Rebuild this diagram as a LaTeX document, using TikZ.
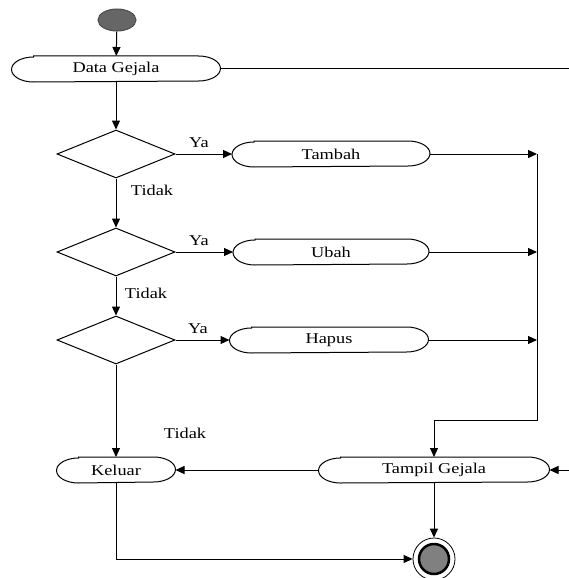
\documentclass[tikz,border=0pt]{standalone}
\usepackage{fontspec}
\setmainfont[FakeStretch=1.22]{Liberation Serif}
\usetikzlibrary{shapes.geometric}
\usetikzlibrary{arrows.meta}
\tikzstyle{activity}=[minimum height=25pt, inner sep=0pt, font=\fontsize{15}{17}\selectfont,
    append after command={\pgfextra{\draw ([xshift=22pt]\tikzlastnode.north west) -- ([xshift=-22pt]\tikzlastnode.north east)
        arc[x radius=22pt, y radius=12.5pt, start angle=90, end angle=-90]
        -- ([xshift=22pt]\tikzlastnode.south west)
        arc[x radius=22pt, y radius=12.5pt, start angle=270, end angle=90] -- cycle;}}]
\tikzstyle{decision}=[draw, diamond, minimum width=118pt, minimum height=48pt, inner sep=0pt]
\tikzstyle{guard}=[inner sep=0pt, font=\fontsize{15}{17}\selectfont]
\tikzstyle{flow}=[-{Triangle[length=9pt, width=8pt]}]

\begin{document}
\begin{tikzpicture}[x=1pt, y=-1pt, line width=1pt]
        \useasboundingbox (0,0) rectangle (568,578);
        \node[draw=black!70, fill=black!60, ellipse, minimum width=38pt, minimum height=22pt] (start) at (117, 20) {};
        \node[activity, minimum width=208pt] (data) at (116, 69) {Data Gejala};
        \node[decision] (d1) at (116, 154) {};
        \node[decision] (d2) at (116, 252) {};
        \node[decision] (d3) at (116, 340) {};
        \node[activity, minimum width=197pt] (tambah) at (331, 154) {Tambah};
        \node[activity, minimum width=195pt] (ubah) at (331, 252) {Ubah};
        \node[activity, minimum width=198pt] (hapus) at (329, 340) {Hapus};
        \node[activity, minimum width=118pt] (keluar) at (116, 470) {Keluar};
        \node[activity, minimum width=230pt] (tampil) at (434, 470) {Tampil Gejala};
        \node[draw, circle, line width=0.8pt, minimum size=42pt] (stop) at (434, 559) {};
        \node[draw, circle, fill=black!50, line width=2.5pt, minimum size=30pt] (stopin) at (stop) {};
        \node[guard] (ya1) at (199, 143) {Ya};
        \node[guard] (ya2) at (199, 241) {Ya};
        \node[guard] (ya3) at (198, 329) {Ya};
        \node[guard] (tidak1) at (152, 190) {Tidak};
        \node[guard] (tidak2) at (146, 293) {Tidak};
        \node[guard] (tidak3) at (185, 433) {Tidak};
        \coordinate (j1) at (537, 154);
        \coordinate (j2) at (537, 252);
        \coordinate (j3) at (537, 340);
        \coordinate (j4) at (537, 420);
        \coordinate (j5) at (434, 420);
        \coordinate (j6) at (571, 69);
        \draw[flow] (start) -- (data);
        \draw[flow] (data) -- (d1);
        \draw[flow] (d1) -- (d2);
        \draw[flow] (d2) -- (d3);
        \draw[flow] (d3) -- (keluar);
        \draw[flow] (d1) -- (tambah);
        \draw[flow] (d2) -- (ubah);
        \draw[flow] (d3) -- (hapus);
        \draw[flow] (tambah) -- (j1);
        \draw[flow] (ubah) -- (j2);
        \draw[flow] (hapus) -- (j3);
        \draw (j1) -- (j4) -- (j5);
        \draw[flow] (j5) -- (tampil);
        \draw[flow] (data) -- (j6) |- (tampil);
        \draw[flow] (tampil) -- (keluar);
        \draw[flow] (tampil) -- (stop);
        \draw[flow] (keluar) |- (stop);
    \end{tikzpicture}
\end{document}
